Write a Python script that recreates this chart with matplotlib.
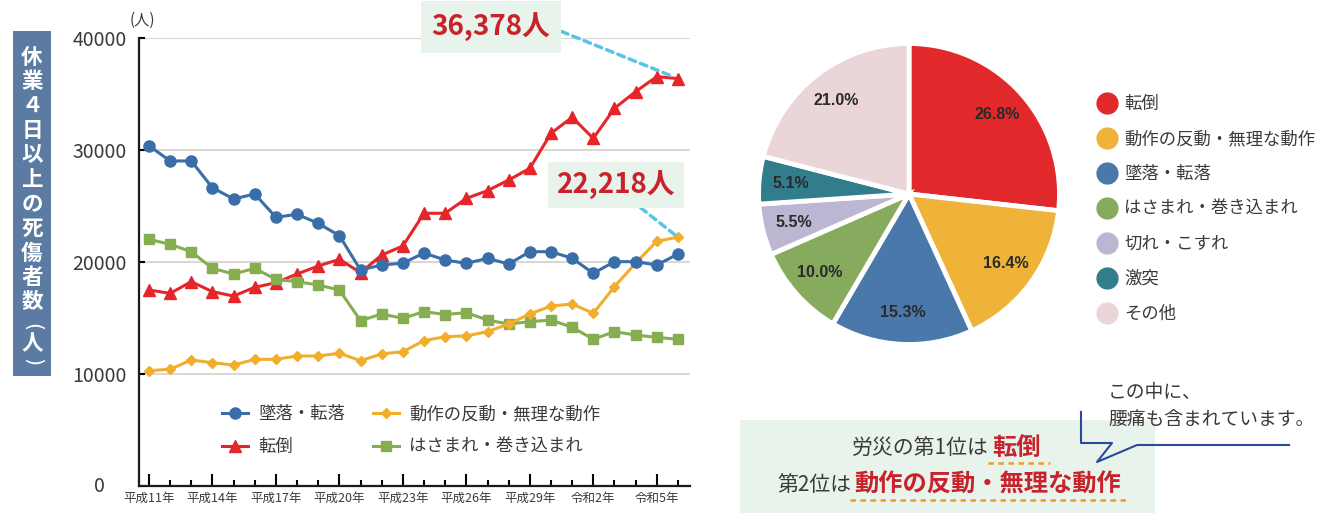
import matplotlib
matplotlib.use('Agg')
import matplotlib.pyplot as plt
import matplotlib.transforms as mtransforms
from matplotlib.lines import Line2D
from matplotlib.patches import Rectangle

plt.rcParams['font.family'] = ['Noto Sans CJK JP', 'DejaVu Sans']

# ---- data ----
years = list(range(1999, 2025))
tick_years = [1999, 2002, 2005, 2008, 2011, 2014, 2017, 2020, 2023]
tick_labels = ['平成11年', '平成14年', '平成17年', '平成20年', '平成23年',
               '平成26年', '平成29年', '令和2年', '令和5年']

fall = [30380, 29020, 29020, 26630, 25630, 26070, 23990, 24260, 23450, 22350,
        19290, 19730, 19900, 20800, 20180, 19880, 20330, 19820, 20920, 20920,
        20330, 18990, 20030, 20030, 19730, 20710]
trip = [17500, 17200, 18240, 17350, 16960, 17740, 18150, 18930, 19640, 20240,
        19050, 20620, 21430, 24350, 24350, 25680, 26370, 27320, 28360, 31490,
        32920, 31040, 33720, 35210, 36550, 36378]
strain = [10300, 10420, 11250, 11010, 10800, 11310, 11310, 11610, 11610, 11850,
          11190, 11790, 11990, 12980, 13330, 13400, 13780, 14460, 15360, 16070,
          16250, 15420, 17800, 19900, 21850, 22218]
caught = [22020, 21580, 20920, 19430, 18930, 19430, 18450, 18240, 17950, 17500,
          14760, 15360, 14970, 15570, 15310, 15480, 14820, 14460, 14670, 14820,
          14170, 13100, 13780, 13480, 13270, 13100]

pie_labels = ['転倒', '動作の反動・無理な動作', '墜落・転落', 'はさまれ・巻き込まれ',
              '切れ・こすれ', '激突', 'その他']
pie_vals = [26.8, 16.4, 15.3, 10.0, 5.5, 5.1, 21.0]
pie_colors = ['#e1282b', '#efb33a', '#4b78ab', '#87ab5e', '#bcb6d2', '#327d8b', '#ead5d8']

W, H = 1333, 513
RED_TXT = '#c8232c'
GRAY = '#3a3a3a'


def px(x, y):
    # pixel (top-left origin) -> figure fraction
    return x / W, 1 - y / H


fig = plt.figure(figsize=(W / 100, H / 100), dpi=100)

# ---- line chart ----
ax = fig.add_axes([139 / W, 27 / H, 551 / W, 448 / H])
ax.plot(years, trip, color='#e6252a', lw=2.2, marker='^', ms=8.5, label='転倒', zorder=3)
ax.plot(years, caught, color='#86ad50', lw=2.2, marker='s', ms=7, label='はさまれ・巻き込まれ', zorder=3)
ax.plot(years, strain, color='#f0ae2c', lw=2.2, marker='D', ms=5.5, label='動作の反動・無理な動作', zorder=3)
ax.plot(years, fall, color='#3a6ea8', lw=2.2, marker='o', ms=8, label='墜落・転落', zorder=4)

ax.set_xlim(1998.53, 2024.57)
ax.set_ylim(0, 40000)
ax.set_yticks([0, 10000, 20000, 30000, 40000])
ax.set_xticks(tick_years)
ax.set_xticks(years, minor=True)
ax.set_xticklabels(tick_labels, fontsize=9, color=GRAY)
ax.tick_params(axis='y', labelsize=14, labelcolor=GRAY, direction='in', length=4, width=1.5, pad=9)
ax.tick_params(axis='x', which='major', direction='in', length=8.5, width=1.5, pad=4)
ax.tick_params(axis='x', which='minor', direction='in', length=4.5, width=1.5)
# the "0" label sits further left in the original
zero_lbl = ax.yaxis.get_major_ticks()[0].label1
zero_lbl.set_transform(zero_lbl.get_transform() +
                       mtransforms.ScaledTranslation(-0.22, 0.02, fig.dpi_scale_trans))
ax.grid(axis='y', color='#dcd6d4', lw=1.5)
ax.set_axisbelow(True)
for s in ['top', 'right']:
    ax.spines[s].set_visible(False)
for s in ['left', 'bottom']:
    ax.spines[s].set_linewidth(1.6)
    ax.spines[s].set_color('#1a1a1a')

h, l = ax.get_legend_handles_labels()
order = [3, 0, 2, 1]
ax.legend([h[i] for i in order], [l[i] for i in order], ncol=2, frameon=False,
          loc='upper left', bbox_to_anchor=(0.15, 0.18), fontsize=12.5,
          handlelength=1.5, handletextpad=0.6, columnspacing=1.6,
          labelspacing=0.85, borderpad=0, borderaxespad=0, labelcolor=GRAY)

fig.text(*px(142, 20), '(人)', fontsize=11, color=GRAY, ha='center', va='center')

# value callouts
ax.annotate(f'{trip[-1]:,}人', xy=(years[-1], trip[-1]), xytext=(491, H - 27),
            textcoords='figure pixels', ha='center', va='center',
            fontsize=20, color=RED_TXT, fontweight='bold',
            bbox=dict(boxstyle='square,pad=0.4', fc='#e8f3ec', ec='none'),
            arrowprops=dict(arrowstyle='-', color='#5bc3e8', lw=2.5,
                            linestyle=(0, (2, 1.5)), relpos=(1, 0.5),
                            shrinkA=0, shrinkB=3), annotation_clip=False)
ax.annotate(f'{strain[-1]:,}人', xy=(years[-1], strain[-1]), xytext=(616, H - 185),
            textcoords='figure pixels', ha='center', va='center',
            fontsize=20, color=RED_TXT, fontweight='bold',
            bbox=dict(boxstyle='square,pad=0.3', fc='#e8f3ec', ec='none'),
            arrowprops=dict(arrowstyle='-', color='#5bc3e8', lw=2.5,
                            linestyle=(0, (2, 1.5)), relpos=(0.62, 0),
                            shrinkA=0, shrinkB=3), annotation_clip=False)

# vertical y label box
fig.patches.append(Rectangle(px(13, 376), 38 / W, 345 / H, transform=fig.transFigure,
                             fc='#5b7ba3', ec='none'))
vchars = list('休業４日以上の死傷者数')
for i, ch in enumerate(vchars):
    fig.text(*px(32, 57 + i * 24.5), ch, fontsize=15.5, fontweight='bold',
             color='white', ha='center', va='center')
fig.text(*px(32, 327), '(', fontsize=15, color='white', ha='center', va='center',
         rotation=-90, family='DejaVu Sans')
fig.text(*px(32, 344), '人', fontsize=15.5, fontweight='bold', color='white',
         ha='center', va='center')
fig.text(*px(32, 362), ')', fontsize=15, color='white', ha='center', va='center',
         rotation=-90, family='DejaVu Sans')

# ---- pie chart ----
pax = fig.add_axes([757 / W, 1 - 346 / H, 304 / W, 304 / H])
wedges, _, autotexts = pax.pie(pie_vals, colors=pie_colors, startangle=90, counterclock=False,
                               autopct='%.1f%%', pctdistance=0.79,
                               wedgeprops=dict(edgecolor='white', linewidth=3.5),
                               textprops=dict(fontsize=11.5, color='#2a2a2a',
                                              family='Liberation Sans', fontweight='bold'))
pax.set_xlim(-1.01, 1.01)
pax.set_ylim(-1.01, 1.01)
pax.set_aspect('equal')

handles = [Line2D([], [], marker='o', ls='', ms=15, color=c) for c in pie_colors]
fig.legend(handles, pie_labels, loc='upper left', bbox_to_anchor=px(1098, 95),
           frameon=False, fontsize=12.5, labelcolor=GRAY, handlelength=1.0,
           handletextpad=0.5, labelspacing=0.98, borderpad=0, borderaxespad=0)

# ---- summary box ----
fig.patches.append(Rectangle(px(740, 513), 415 / W, 93 / H, transform=fig.transFigure,
                             fc='#e8f3ec', ec='none'))
fig.text(*px(989, 448), '労災の第1位は', fontsize=15, color=GRAY, ha='right', va='center')
fig.text(*px(992, 448), '転倒', fontsize=17.5, color=RED_TXT, fontweight='bold',
         ha='left', va='center')
fig.text(*px(851, 485), '第2位は', fontsize=15, color=GRAY, ha='right', va='center')
fig.text(*px(854, 485), '動作の反動・無理な動作', fontsize=17.5, color=RED_TXT,
         fontweight='bold', ha='left', va='center')
for (x0, x1, y) in [(988, 1050, 463), (850, 1128, 500)]:
    fig.add_artist(Line2D([x0 / W, x1 / W], [1 - y / H] * 2, transform=fig.transFigure,
                          color='#f39a1f', lw=1.8, linestyle=(0, (2.2, 1.8))))

# speech bubble
bx = [1081, 1081, 1112, 1097, 1137, 1289]
by = [412, 443, 443, 462, 445, 445]
fig.add_artist(Line2D([x / W for x in bx], [1 - y / H for y in by],
                      transform=fig.transFigure, color='#2a4a9a', lw=1.5))
fig.text(*px(1108, 392), 'この中に、', fontsize=13.5, color=GRAY, ha='left', va='center')
fig.text(*px(1108, 420), '腰痛も含まれています。', fontsize=13.5, color=GRAY,
         ha='left', va='center')

fig.savefig('out.png', dpi=100)
